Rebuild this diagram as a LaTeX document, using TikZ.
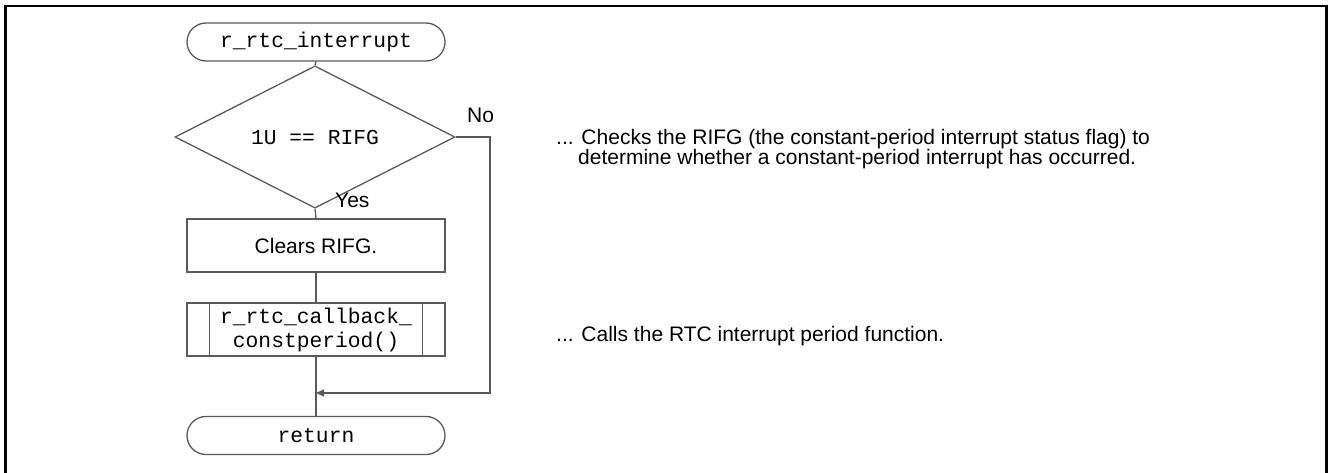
\documentclass[tikz,border=0pt]{standalone}
\usepackage{fontspec}
\setmainfont{Liberation Sans}
\setmonofont{Liberation Mono}
\usetikzlibrary{shapes.geometric,arrows.meta}
\definecolor{lc}{RGB}{90,90,90}
\tikzset{
  lbl/.style={font=\fontsize{21}{21}\selectfont, inner sep=0pt},
  term/.style={draw=lc, line width=1.3pt, rounded corners=19pt, minimum width=258pt, minimum height=38pt, inner sep=0pt, font=\fontsize{21.3}{25}\selectfont\ttfamily},
  decis/.style={draw=lc, line width=1.3pt, diamond, minimum width=280pt, minimum height=106pt, inner sep=0pt, font=\fontsize{21.3}{25}\selectfont\ttfamily},
  procbox/.style={draw=lc, line width=1.3pt, minimum width=258pt, minimum height=53pt, inner sep=0pt, font=\fontsize{21}{21}\selectfont},
  conn/.style={draw=lc, line width=1.3pt},
}
\begin{document}
\begin{tikzpicture}[x=1pt,y=-1pt]
\useasboundingbox (0,0) rectangle (1328,473);
\draw[line width=2.6pt] (5.5,473) -- (5.5,6.2) -- (1326.5,6.2) -- (1326.5,473);
% nodes
\node[term] (start) at (316,42) {r\_rtc\_interrupt};
\node[decis] (dia) at (315,137) {1U == RIFG};
\node[procbox] (clr) at (316,245.5) {Clears RIFG.};
\node[procbox, font=\fontsize{21.3}{25}\selectfont\ttfamily, align=center] (sub) at (316,329.5) {r\_rtc\_callback\_\\[-1pt]constperiod()};
\draw[conn] ([xshift=23pt]sub.north west) -- ([xshift=23pt]sub.south west);
\draw[conn] ([xshift=-23pt]sub.north east) -- ([xshift=-23pt]sub.south east);
\node[term] (ret) at (316,435.5) {return};
% labels
\node[lbl, anchor=base west] (no) at (467,123) {No};
\node[lbl, anchor=base west] (yes) at (335,208) {Yes};
\node[lbl, anchor=base west] (t1) at (556,144.5) {... Checks the RIFG (the constant-period interrupt status flag) to};
\node[lbl, anchor=base west] (t1b) at (578,165) {determine whether a constant-period interrupt has occurred.};
\node[lbl, anchor=base west] (t2) at (556,341) {... Calls the RTC interrupt period function.};
% connectors
\coordinate (nc) at (490,393);
\coordinate (join) at (316,393);
\draw[conn] (start.south) -- (dia.north);
\draw[conn] (dia.south) -- (clr.north);
\draw[conn] (clr.south) -- (sub.north);
\draw[conn] (sub.south) -- (ret.north);
\draw[conn, -{Triangle[length=8pt,width=7pt]}] (dia.east) -| (nc) -- (join);
\end{tikzpicture}
\end{document}
